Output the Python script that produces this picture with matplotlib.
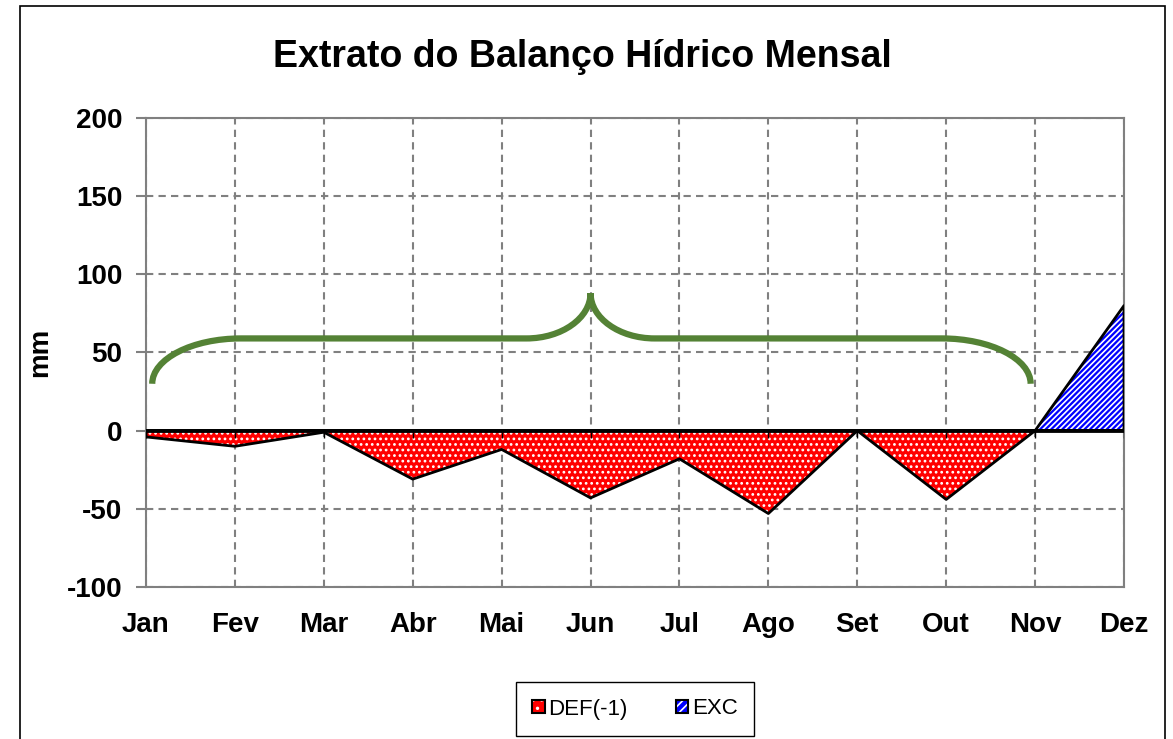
import numpy as np
import matplotlib
matplotlib.use('Agg')
import matplotlib.pyplot as plt
from matplotlib.path import Path
from matplotlib.patches import PathPatch, Rectangle

months = ['Jan', 'Fev', 'Mar', 'Abr', 'Mai', 'Jun', 'Jul', 'Ago', 'Set', 'Out', 'Nov', 'Dez']
deficit = [-4, -10, -1, -31, -12, -43, -18, -53, 0, -44, 0, 0]
excedente = [0, 0, 0, 0, 0, 0, 0, 0, 0, 0, 0, 80]

# brace drawn over the dry period (Jan..Nov), in data units
brace_x0, brace_x1, brace_mid = 0.07, 9.95, 5.0
brace_y_end, brace_y_bar, brace_y_tip = 30, 59, 88

plt.rcParams['font.family'] = ['Liberation Sans', 'DejaVu Sans']
plt.rcParams['axes.unicode_minus'] = False
plt.rcParams['hatch.color'] = 'white'
plt.rcParams['hatch.linewidth'] = 1.2

grid_col = '#808080'
hatch_def = '...'
hatch_exc = '//////'

fig = plt.figure(figsize=(11.73, 7.39), dpi=100)
ax = fig.add_axes([146 / 1173, 1 - 587 / 739, (1124 - 146) / 1173, (587 - 118) / 739])

x = np.arange(len(months))

# areas
ax.fill_between(x, deficit, 0, facecolor='#ff0000', hatch=hatch_def, linewidth=0, zorder=3)
ax.fill_between(x, excedente, 0, facecolor='#0000ff', hatch=hatch_exc, linewidth=0, zorder=3)
ax.fill_between(x, deficit, 0, facecolor='none', edgecolor='black', linewidth=2, zorder=4)
ax.fill_between(x, excedente, 0, facecolor='none', edgecolor='black', linewidth=2, zorder=4)

# zero axis with month ticks
ax.axhline(0, color='black', linewidth=2, zorder=5)
ax.vlines(x, -5, 0, color='black', linewidth=1, zorder=5)

# curly brace
k = 0.55
w = 1.0
dm = 0.72
verts = [
    (brace_x0, brace_y_end),
    (brace_x0, brace_y_end + k * (brace_y_bar - brace_y_end)),
    (brace_x0 + w - k * w, brace_y_bar),
    (brace_x0 + w, brace_y_bar),
    (brace_mid - dm, brace_y_bar),
    (brace_mid - dm + k * dm, brace_y_bar),
    (brace_mid, brace_y_tip - k * (brace_y_tip - brace_y_bar)),
    (brace_mid, brace_y_tip),
    (brace_mid, brace_y_tip - k * (brace_y_tip - brace_y_bar)),
    (brace_mid + dm - k * dm, brace_y_bar),
    (brace_mid + dm, brace_y_bar),
    (brace_x1 - w, brace_y_bar),
    (brace_x1 - w + k * w, brace_y_bar),
    (brace_x1, brace_y_end + k * (brace_y_bar - brace_y_end)),
    (brace_x1, brace_y_end),
]
codes = ([Path.MOVETO] + [Path.CURVE4] * 3 + [Path.LINETO] + [Path.CURVE4] * 6
         + [Path.LINETO] + [Path.CURVE4] * 3)
ax.add_patch(PathPatch(Path(verts, codes), facecolor='none', edgecolor='#548235',
                       linewidth=4.5, capstyle='butt', zorder=6))

ax.set_xlim(0, 11)
ax.set_ylim(-100, 200)
ax.set_yticks(range(-100, 201, 50))
ax.set_xticks(x)
ax.set_xticklabels(months)
ax.grid(True, color=grid_col, linestyle=(0, (3.5, 2.5)), linewidth=1.5, zorder=1)
ax.set_axisbelow(True)

for s in ax.spines.values():
    s.set_color(grid_col)
    s.set_linewidth(1.5)

ax.tick_params(axis='y', length=7, width=1.5, color=grid_col, labelsize=20, pad=10)
ax.tick_params(axis='x', length=0, labelsize=20, pad=18)
for lbl in ax.get_xticklabels() + ax.get_yticklabels():
    lbl.set_fontweight('bold')

ax.set_ylabel('mm', fontsize=20, fontweight='bold', labelpad=10)

fig.text(582 / 1173, 1 - 67 / 739, 'Extrato do Balanço Hídrico Mensal',
         ha='center', va='baseline', fontsize=27, fontweight='bold')

# legend
h_def = plt.Rectangle((0, 0), 1, 1, facecolor='#ff0000', hatch='..')
h_exc = plt.Rectangle((0, 0), 1, 1, facecolor='#0000ff', hatch='////')
leg = fig.legend([h_def, h_exc], ['DEF(-1)', 'EXC'], loc='center',
                 bbox_to_anchor=(635 / 1173, 1 - 709 / 739), ncol=2, fontsize=16,
                 handlelength=0.55, handleheight=0.55, handletextpad=0.15,
                 columnspacing=2.2, borderpad=0.75, borderaxespad=0,
                 fancybox=False, framealpha=1)
leg.get_frame().set_edgecolor('black')
leg.get_frame().set_linewidth(1)
for h in leg.legend_handles:
    h.set_edgecolor('black')
    h.set_linewidth(1.5)
    h._hatch_color = (1, 1, 1, 1)

# outer chart border
fig.patches.append(Rectangle((20 / 1173, -0.02), (1165 - 20) / 1173, 1 - 6 / 739 + 0.02,
                             transform=fig.transFigure, facecolor='none',
                             edgecolor='black', linewidth=1.2, clip_on=False))

fig.savefig('out.png', dpi=100)
